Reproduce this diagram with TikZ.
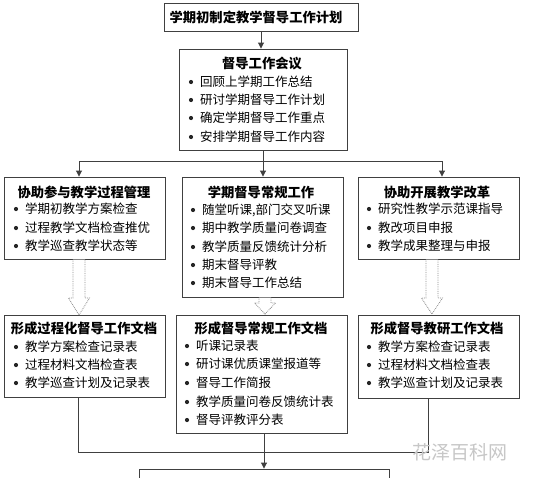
\documentclass[tikz,border=0pt]{standalone}
\usepackage{fontspec}
\newfontfamily\cjk{Noto Sans CJK SC}
\usetikzlibrary{arrows.meta,calc}
\tikzset{
  box/.style={draw=black!75, line width=0.9pt, fill=white, inner sep=0pt},
  ttl/.style={font=\cjk\bfseries\fontsize{13.3}{15}\selectfont, inner sep=0pt},
  itm/.style={font=\cjk\fontsize{12.5}{14}\selectfont, anchor=west, inner sep=0pt},
  conn/.style={draw=black!75, line width=0.9pt},
  arr/.style={conn, -{Triangle[length=6pt,width=6pt]}},
  hollow/.style={draw=black!45, line width=0.8pt, densely dotted, fill=white},
}
\newcommand{\bul}[3]{\fill[black!85] (#1,#2) circle (2.1pt); \node[itm] at (#1+9,#2) {#3};}
\newcommand{\hollowarr}[4]{% x, ytop, yheadbase, ytip
  \draw[hollow] (#1-6,#2) -- (#1-6,#3) -- (#1-10.5,#3) -- (#1,#4) -- (#1+10.5,#3) -- (#1+6,#3) -- (#1+6,#2);}
\begin{document}
\begin{tikzpicture}[x=1pt,y=-1pt]
\useasboundingbox (0,0) rectangle (533,477);
\clip (0,0) rectangle (533,477);
\fill[white] (0,0) rectangle (533,477);

% boxes
\node[box, minimum width=194pt, minimum height=28pt] (top) at (261,17) {};
\node[box, minimum width=168pt, minimum height=101pt] (meet) at (263,99.5) {};
\node[box, minimum width=161pt, minimum height=82pt] (L1) at (84.5,218) {};
\node[box, minimum width=161pt, minimum height=120pt] (M1) at (262.5,237) {};
\node[box, minimum width=161pt, minimum height=82pt] (R1) at (438.5,218) {};
\node[box, minimum width=161pt, minimum height=82pt] (L2) at (84.5,356) {};
\node[box, minimum width=171pt, minimum height=118pt] (M2) at (261.5,374) {};
\node[box, minimum width=161pt, minimum height=83pt] (R2) at (438.5,356.5) {};
\node[box, minimum width=250pt, minimum height=31pt] (B) at (264,484.5) {};

% texts
\node[ttl] (t0) at (256,17) {学期初制定教学督导工作计划};
\node[ttl] (t1) at (262,63) {督导工作会议};
\bul{191}{82}{回顾上学期工作总结}
\bul{191}{100}{研讨学期督导工作计划}
\bul{191}{118}{确定学期督导工作重点}
\bul{191}{137}{安排学期督导工作内容}

\node[ttl] (tl1) at (84,192) {协助参与教学过程管理};
\bul{16}{209}{学期初教学方案检查}
\bul{16}{228}{过程教学文档检查推优}
\bul{16}{246}{教学巡查教学状态等}

\node[ttl] (tm1) at (261,192) {学期督导常规工作};
\bul{193}{210}{随堂听课,部门交叉听课}
\bul{193}{228}{期中教学质量问卷调查}
\bul{193}{247}{教学质量反馈统计分析}
\bul{193}{265}{期末督导评教}
\bul{193}{283}{期末督导工作总结}

\node[ttl] (tr1) at (437,192) {协助开展教学改革};
\bul{369}{209}{研究性教学示范课指导}
\bul{369}{228}{教改项目申报}
\bul{369}{246}{教学成果整理与申报}

\node[ttl] (tl2) at (84,328) {形成过程化督导工作文档};
\bul{16}{347}{教学方案检查记录表}
\bul{16}{365}{过程材料文档检查表}
\bul{16}{383}{教学巡查计划及记录表}

\node[ttl] (tm2) at (261,328) {形成督导常规工作文档};
\bul{187}{346}{听课记录表}
\bul{187}{364}{研讨课优质课堂报道等}
\bul{187}{383}{督导工作简报}
\bul{187}{402}{教学质量问卷反馈统计表}
\bul{187}{420}{督导评教评分表}

\node[ttl] (tr2) at (437,328) {形成督导教研工作文档};
\bul{369}{347}{教学方案检查记录表}
\bul{369}{365}{过程材料文档检查表}
\bul{369}{383}{教学巡查计划及记录表}

% connectors
\draw[arr] (top.south) -- (top.south |- meet.north);
\coordinate (bus) at (263,161);
\coordinate (busL) at (79,161);
\coordinate (busR) at (442,161);
\draw[conn] (meet.south) -- (bus);
\draw[conn] (busL) -- (busR);
\draw[arr] (busL) -- (busL |- L1.north);
\draw[arr] (bus) -- (bus |- M1.north);
\draw[arr] (busR) -- (busR |- R1.north);

\hollowarr{79}{259.5}{298}{315}
\hollowarr{265}{297.5}{303}{314}
\hollowarr{432}{259.5}{298}{314}

\coordinate (jL) at (78,452);
\coordinate (jR) at (428,452);
\draw[conn] (jL |- L2.south) -- (jL) -- (jR) -- (jR |- R2.south);
\coordinate (jM) at (264,452);
\draw[arr] (jM |- M2.south) -- (jM |- B.north);

% watermark
\node[font=\cjk\fontsize{19}{21}\selectfont, text=black!22, inner sep=0pt] (wm) at (460,452) {花泽百科网};
\end{tikzpicture}
\end{document}
